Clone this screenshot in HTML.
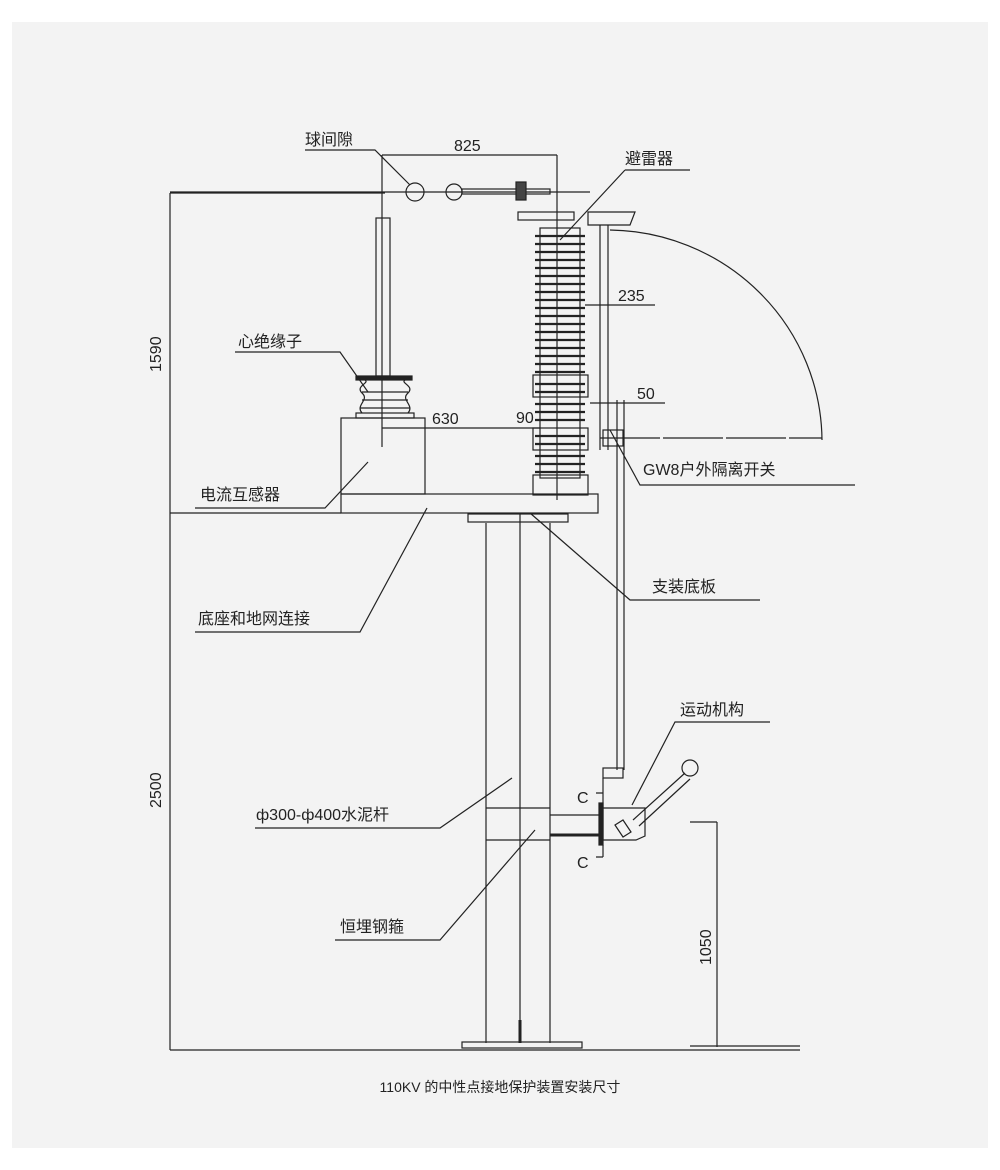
<!DOCTYPE html>
<html><head><meta charset="utf-8"><style>
body{margin:0;background:#fff;}
svg{display:block}
text{font-family:"Liberation Sans","Noto Sans CJK SC",sans-serif;fill:#222}
</style></head><body>
<svg width="1000" height="1170" viewBox="0 0 1000 1170" xmlns="http://www.w3.org/2000/svg">
<rect x="12" y="22" width="976" height="1126" fill="#f3f3f3"/>
<g stroke="#222" stroke-width="1.2" fill="none">
<line x1="170" y1="193" x2="170" y2="1050"/>
<line x1="170" y1="193" x2="385" y2="193"/>
<line x1="170" y1="513" x2="341" y2="513"/>
<line x1="170" y1="1050" x2="800" y2="1050"/>
<line x1="717" y1="822" x2="717" y2="1047"/>
<line x1="690" y1="822" x2="717" y2="822"/>
<line x1="690" y1="1046" x2="800" y2="1046"/>
<line x1="486" y1="523" x2="486" y2="1043"/>
<line x1="550" y1="523" x2="550" y2="1043"/>
<line x1="520" y1="513" x2="520" y2="1043"/>
<rect x="462" y="1042" width="120" height="6"/>
<line x1="486" y1="808" x2="550" y2="808"/>
<line x1="486" y1="840" x2="550" y2="840"/>
<rect x="468" y="514" width="100" height="8"/>
<line x1="520" y1="1020" x2="520" y2="1043" stroke-width="3"/>
<rect x="341" y="494" width="257" height="19"/>
<rect x="341" y="418" width="84" height="76"/>
<rect x="356" y="413" width="58" height="5"/>
<path d="M362 413 C355 405 370 400 362 393 C355 386 370 383 365 380 M408 413 C415 405 400 400 408 393 C415 386 400 383 405 380"/>
<line x1="362" y1="400" x2="408" y2="400"/><line x1="362" y1="392" x2="408" y2="392"/><line x1="360" y1="408" x2="410" y2="408"/>
<rect x="356" y="376" width="56" height="4" fill="#222"/>
<rect x="376" y="218" width="14" height="158"/>
<line x1="382" y1="155" x2="382" y2="447"/>
<line x1="382" y1="155" x2="557" y2="155"/>
<line x1="557" y1="155" x2="557" y2="500"/>
<line x1="170" y1="192" x2="590" y2="192"/>
<circle cx="415" cy="192" r="9"/>
<circle cx="454" cy="192" r="8"/>
<rect x="462" y="189" width="88" height="5"/>
<rect x="516" y="182" width="10" height="18" fill="#444"/>
<rect x="518" y="212" width="56" height="8"/>
<path d="M588 212 L635 212 L630 225 L588 225 Z"/>
<line x1="600" y1="225" x2="600" y2="450"/><line x1="608" y1="225" x2="608" y2="450"/>
<rect x="540" y="228" width="40" height="250"/>
<rect x="533" y="475" width="55" height="20"/>
<rect x="533" y="375" width="55" height="22"/>
<rect x="533" y="428" width="55" height="22"/>
</g>
<g stroke="#222" stroke-width="2.2">
<path d="M535 236h50M535 244h50M535 252h50M535 260h50M535 268h50M535 276h50M535 284h50M535 292h50M535 300h50M535 308h50M535 316h50M535 324h50M535 332h50M535 340h50M535 348h50M535 356h50M535 364h50M535 372h50M535 384h50M535 392h50M535 404h50M535 412h50M535 420h50M535 436h50M535 444h50M535 456h50M535 464h50M535 472h50"/>
</g>
<g stroke="#222" stroke-width="1.2" fill="none">
<path d="M610 230 A215 212 0 0 1 822 440"/>
<line x1="600" y1="438" x2="822" y2="438" stroke-dasharray="60 3"/>
<line x1="617" y1="400" x2="617" y2="770"/><line x1="624" y1="400" x2="624" y2="770"/>
<rect x="603" y="430" width="20" height="16"/>
<rect x="603" y="768" width="20" height="10"/>
<line x1="603" y1="778" x2="603" y2="808"/>
<path d="M603 808 L645 808 L645 836 L636 840 L603 840 Z"/>
<rect x="599" y="803" width="4" height="42" fill="#222"/>
<line x1="550" y1="815" x2="600" y2="815"/>
<line x1="550" y1="835" x2="600" y2="835" stroke-width="3"/>
<path d="M615 825 l8 -5 l8 12 l-8 5 z"/>
<path d="M633 820 L685 773 M639 826 L690 779"/>
<circle cx="690" cy="768" r="8"/>
<path d="M596 793 h7 M596 857 h7 M603 845 v12"/>
<path d="M305 150 H375 L410 185"/>
<path d="M625 170 H690 M625 170 L560 240"/>
<line x1="585" y1="305" x2="655" y2="305"/>
<path d="M235 352 H340 L368 392"/>
<line x1="590" y1="403" x2="665" y2="403"/>
<line x1="382" y1="428" x2="540" y2="428"/>
<path d="M855 485 H640 L610 430"/>
<path d="M195 508 H325 L368 462"/>
<path d="M760 600 H630 L530 513"/>
<path d="M195 632 H360 L427 508"/>
<path d="M770 722 H675 L632 805"/>
<path d="M255 828 H440 L512 778"/>
<path d="M335 940 H440 L535 830"/>
</g>
<g font-size="16">
<text x="305" y="145">球间隙</text>
<text x="454" y="151">825</text>
<text x="625" y="164">避雷器</text>
<text x="618" y="301">235</text>
<text x="238" y="347">心绝缘子</text>
<text x="637" y="399">50</text>
<text x="432" y="424">630</text>
<text x="516" y="423">90</text>
<text x="643" y="475">GW8户外隔离开关</text>
<text x="200" y="500">电流互感器</text>
<text x="652" y="592">支装底板</text>
<text x="198" y="624">底座和地网连接</text>
<text x="680" y="715">运动机构</text>
<text x="256" y="820">ф300-ф400水泥杆</text>
<text x="340" y="932">恒埋钢箍</text>
<text x="577" y="803">C</text>
<text x="577" y="868">C</text>
<text transform="translate(161,372) rotate(-90)">1590</text>
<text transform="translate(161,808) rotate(-90)">2500</text>
<text transform="translate(711,965) rotate(-90)">1050</text>
</g>
<text x="500" y="1092" font-size="14" text-anchor="middle">110KV 的中性点接地保护装置安装尺寸</text>
</svg>
</body></html>
